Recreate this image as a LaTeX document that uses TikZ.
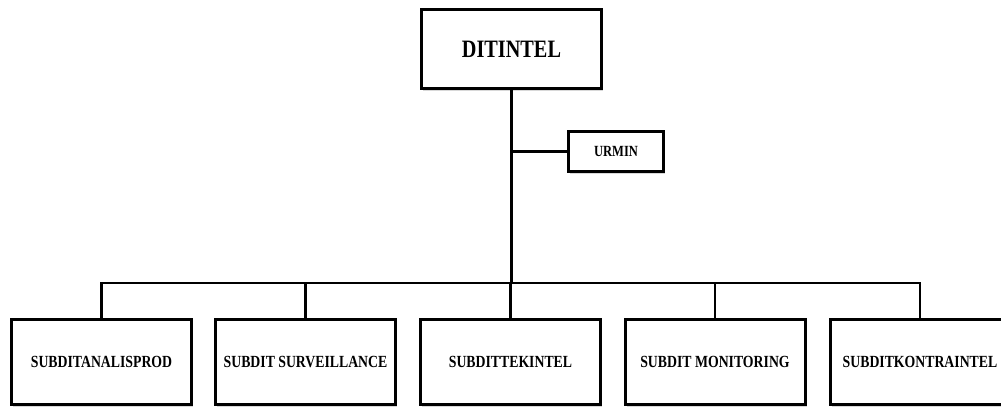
\documentclass[tikz,border=0pt]{standalone}
\usepackage{fontspec}
\newfontfamily\orgfont[FakeStretch=0.81]{Liberation Serif}
\usetikzlibrary{shadows}
\begin{document}
\begin{tikzpicture}[x=1pt,y=-1pt,
  unit/.style={draw=black,line width=3pt,fill=white,inner sep=0pt,
    font=\orgfont\bfseries,align=center,
    drop shadow={shadow xshift=1.5pt,shadow yshift=-2.5pt,fill=black!30}},
  topunit/.style={unit,minimum width=180pt,minimum height=79pt,font=\orgfont\bfseries\fontsize{25}{28}\selectfont},
  staffunit/.style={unit,minimum width=95pt,minimum height=40pt,font=\orgfont\bfseries\fontsize{15.5}{18}\selectfont},
  subunit/.style={unit,minimum width=180pt,minimum height=85pt,font=\orgfont\bfseries\fontsize{17}{20}\selectfont},
  link/.style={line width=2.6pt}]
\useasboundingbox (0,0) rectangle (1001,408);
\clip (0,0) rectangle (1001,408);

% head of the directorate and its administrative unit
\node[topunit] (dit) at (511.5,49) {DITINTEL};
\node[staffunit] (urmin) at (616,151.5) {URMIN};

% sub-directorates
\node[subunit] (s1) at (101.5,361.5) {SUBDITANALISPROD};
\node[subunit] (s2) at (305.5,361.5) {SUBDIT SURVEILLANCE};
\node[subunit] (s3) at (510.5,361.5) {SUBDITTEKINTEL};
\node[subunit] (s4) at (715,361.5) {SUBDIT MONITORING};
\node[subunit] (s5) at (920,361.5) {SUBDITKONTRAINTEL};

\coordinate (hub) at (511.5,283);

% connectors
\draw[link] (dit.south) -- (hub);
\draw[link] (urmin.west) -- (urmin.west -| dit.south);
\draw[link,line cap=rect] (s1.north) -- (s1.north |- hub) -- (s5.north |- hub) -- (s5.north);
\foreach \n in {s2,s3,s4}
  \draw[link] (\n.north) -- (\n.north |- hub);
\end{tikzpicture}
\end{document}
